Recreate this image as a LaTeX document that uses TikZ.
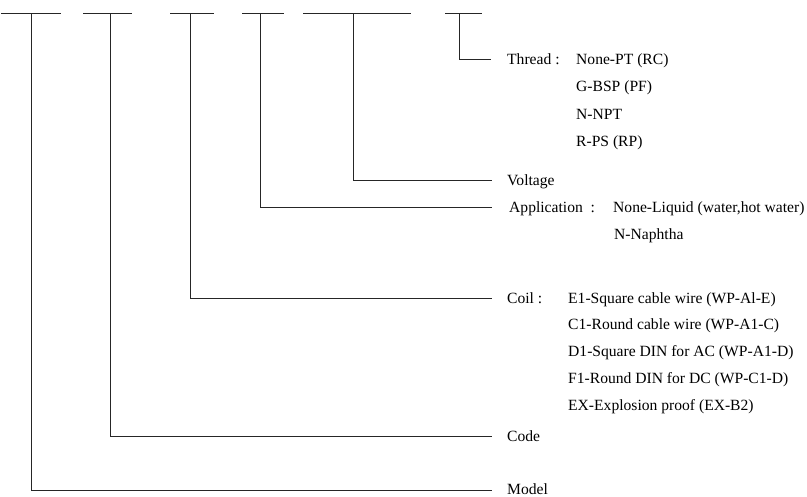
\documentclass[tikz,border=0pt]{standalone}
\usepackage{fontspec}
\setmainfont{Liberation Serif}
\begin{document}
\begin{tikzpicture}[x=1pt,y=-1pt,
  ln/.style={draw=black!85,line width=0.95pt},
  lbl/.style={anchor=base west,inner sep=0pt,font=\fontsize{15.6}{18}\selectfont}]
\useasboundingbox (0,0) rectangle (807,496);
% top segments
\draw[ln] (1,13) -- (61,13);
\draw[ln] (83,13) -- (132,13);
\draw[ln] (170,13) -- (214,13);
\draw[ln] (242,13) -- (284,13);
\draw[ln] (303,13) -- (411,13);
\draw[ln] (445,13) -- (482,13);
% top points
\coordinate (tmodel) at (31,13);
\coordinate (tcode) at (110,13);
\coordinate (tcoil) at (190,13);
\coordinate (tapp) at (260,13);
\coordinate (tvolt) at (353,13);
\coordinate (tthread) at (459,13);
% end points
\coordinate (ethread) at (491,59);
\coordinate (evolt) at (492,180);
\coordinate (eapp) at (492,207);
\coordinate (ecoil) at (492,298);
\coordinate (ecode) at (492,436);
\coordinate (emodel) at (492,490);
% connectors
\draw[ln] (tthread) |- (ethread);
\draw[ln] (tvolt) |- (evolt);
\draw[ln] (tapp) |- (eapp);
\draw[ln] (tcoil) |- (ecoil);
\draw[ln] (tcode) |- (ecode);
\draw[ln] (tmodel) |- (emodel);
% labels
\node[lbl] (thread) at (507,64) {Thread :};
\node[lbl] (th1) at (576,64) {None-PT (RC)};
\node[lbl] (th2) at (576,91) {G-BSP (PF)};
\node[lbl] (th3) at (576,119) {N-NPT};
\node[lbl] (th4) at (576,146) {R-PS (RP)};
\node[lbl] (volt) at (507,185) {Voltage};
\node[lbl] (app) at (509,212) {Application\ \ :};
\node[lbl] (ap1) at (613,212) {None-Liquid (water,hot water)};
\node[lbl] (ap2) at (614,239) {N-Naphtha};
\node[lbl] (coil) at (507,303) {Coil :};
\node[lbl] (c1) at (568,303) {E1-Square cable wire (WP-Al-E)};
\node[lbl] (c2) at (568,329) {C1-Round cable wire (WP-A1-C)};
\node[lbl] (c3) at (568,356) {D1-Square DIN for AC (WP-A1-D)};
\node[lbl] (c4) at (568,383) {F1-Round DIN for DC (WP-C1-D)};
\node[lbl] (c5) at (568,410) {EX-Explosion proof (EX-B2)};
\node[lbl] (code) at (507,441) {Code};
\node[lbl] (model) at (507,494) {Model};
\end{tikzpicture}
\end{document}
